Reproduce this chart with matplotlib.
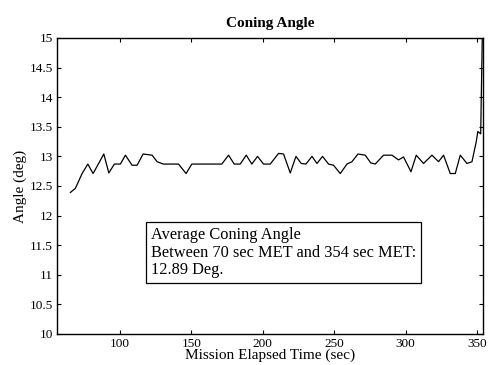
import matplotlib
matplotlib.use('Agg')
import matplotlib.pyplot as plt

# coning angle (MET sec, deg)
met = [65.3, 68.8, 73.5, 77.5, 81.2, 88.7, 92.2, 96.1, 100.3, 103.8, 108.5, 112.0,
       116.2, 122.5, 126.0, 130.3, 141.0, 146.3, 150.3, 171.3, 176.0, 180.0, 184.2,
       188.4, 192.3, 196.3, 200.5, 205.2, 211.0, 214.5, 219.2, 223.2, 226.9, 230.2,
       234.4, 237.9, 241.8, 246.0, 249.5, 254.2, 258.9, 262.4, 266.6, 271.7, 275.5,
       278.7, 284.5, 290.4, 295.0, 298.5, 303.7, 307.4, 312.5, 318.4, 323.0, 326.5,
       331.2, 334.7, 338.2, 342.9, 346.4, 349.4, 350.5, 352.5, 353.6]
angle = [12.39, 12.46, 12.71, 12.87, 12.71, 13.04, 12.72, 12.87, 12.87, 13.02, 12.85, 12.85,
         13.04, 13.02, 12.91, 12.87, 12.87, 12.71, 12.87, 12.87, 13.02, 12.87, 12.87,
         13.02, 12.87, 13.00, 12.87, 12.87, 13.05, 13.04, 12.72, 13.00, 12.88, 12.87,
         13.00, 12.88, 13.00, 12.87, 12.85, 12.71, 12.87, 12.91, 13.04, 13.02, 12.89,
         12.87, 13.02, 13.02, 12.94, 12.99, 12.74, 13.02, 12.88, 13.02, 12.91, 13.02,
         12.71, 12.71, 13.02, 12.88, 12.91, 13.25, 13.42, 13.38, 15.0]

xticks = [100, 150, 200, 250, 300, 350]
yticks = [10, 10.5, 11, 11.5, 12, 12.5, 13, 13.5, 14, 14.5, 15]
ytick_labels = ['10', '10.5', '11', '11.5', '12', '12.5', '13', '13.5', '14', '14.5', '15']

plt.rcParams['font.family'] = ['Liberation Serif', 'DejaVu Serif']

fig = plt.figure(figsize=(4.88, 3.65), dpi=100)
ax = fig.add_axes([0.117, 0.085, 0.873, 0.811])
ax.plot(met, angle, color='black', lw=0.9)
ax.set_xlim(56, 354.2)
ax.set_ylim(10, 15)
ax.set_xticks(xticks)
ax.set_yticks(yticks)
ax.set_yticklabels(ytick_labels)
ax.tick_params(direction='in', top=True, right=True, length=3, labelsize=9.5, pad=3)
for s in ax.spines.values():
    s.set_linewidth(1.0)

ax.set_title('Coning Angle', fontsize=11, fontweight='bold', pad=8)
ax.set_xlabel('Mission Elapsed Time (sec)', fontsize=11, labelpad=-1)
ax.set_ylabel('Angle (deg)', fontsize=11, labelpad=2)

ax.text(121.5, 11.81,
        'Average Coning Angle\nBetween 70 sec MET and 354 sec MET:\n12.89 Deg.',
        fontsize=11.8, va='top', ha='left', linespacing=1.15,
        bbox=dict(boxstyle='square,pad=0.3', fc='white', ec='black', lw=0.9))

fig.savefig('out.png', dpi=100)
